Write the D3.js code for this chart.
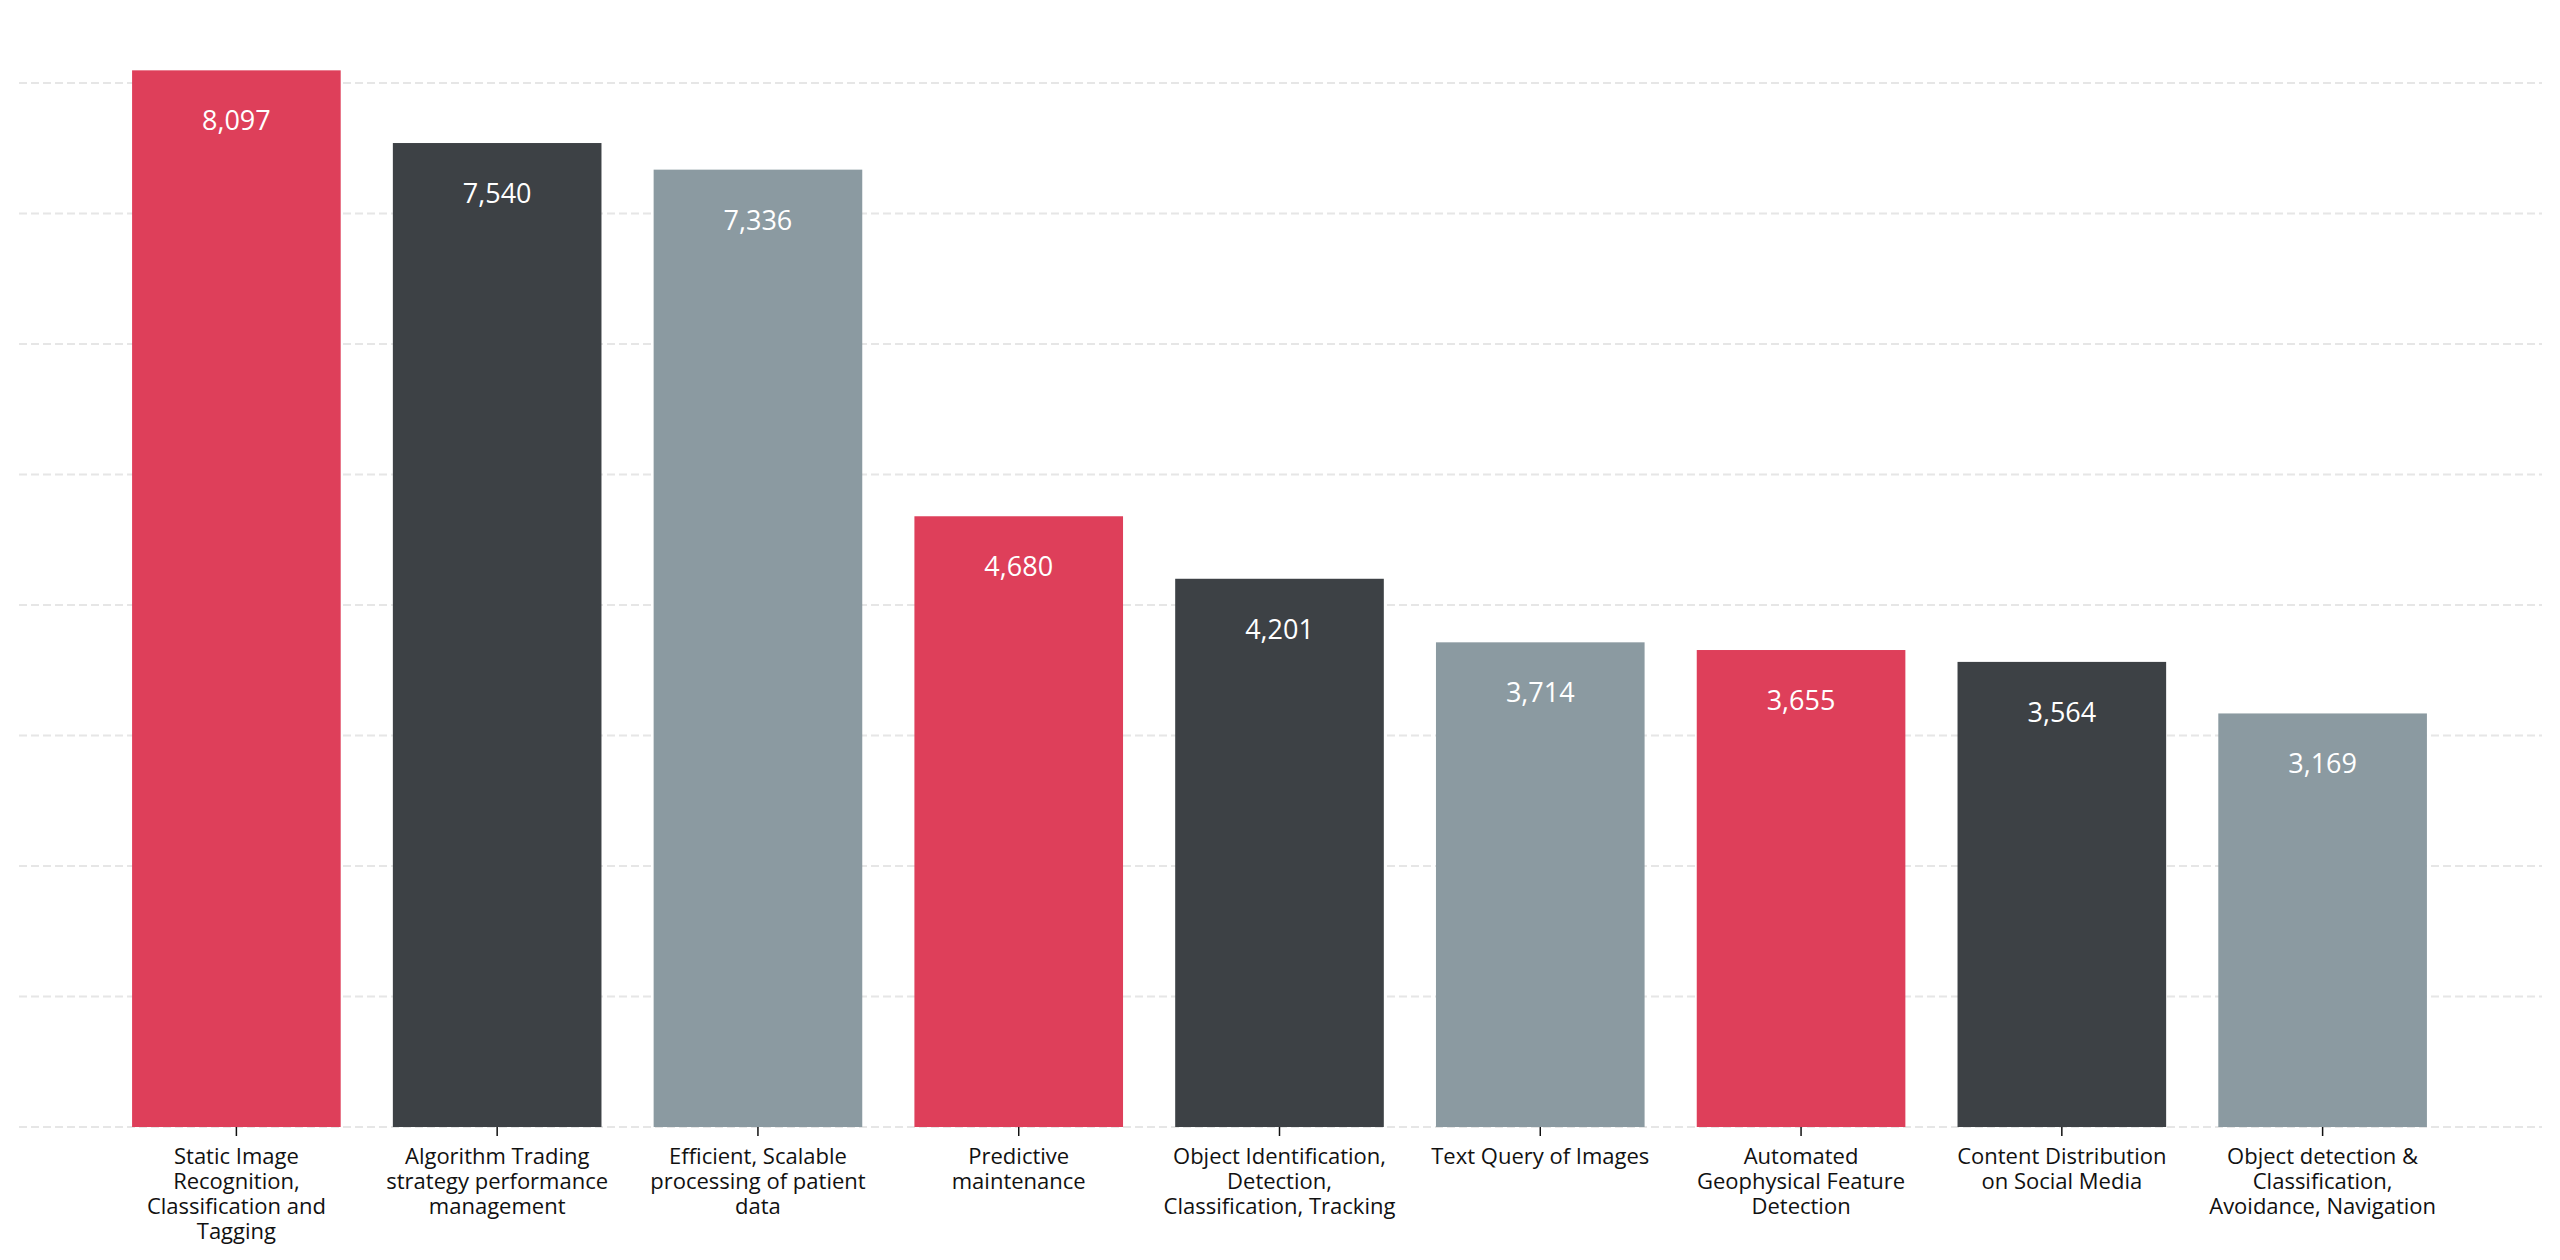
<!DOCTYPE html>
<html>
<head>
<meta charset="utf-8">
<script src="https://cdn.jsdelivr.net/npm/d3@7"></script>
<style>
  body { margin: 0; background: #fff; }
  text { font-family: "Open Sans", Roboto, sans-serif; }
</style>
</head>
<body>
<div id="chart-area"></div>
<script>
const SVG_WIDTH = 2560
const SVG_HEIGHT = 1260

// data
const categories = [
  "Static Image\nRecognition,\nClassification and\nTagging",
  "Algorithm Trading\nstrategy performance\nmanagement",
  "Efficient, Scalable\nprocessing of patient\ndata",
  "Predictive\nmaintenance",
  "Object Identification,\nDetection,\nClassification, Tracking",
  "Text Query of Images",
  "Automated\nGeophysical Feature\nDetection",
  "Content Distribution\non Social Media",
  "Object detection &\nClassification,\nAvoidance, Navigation"
]
const values = [8097, 7540, 7336, 4680, 4201, 3714, 3655, 3564, 3169]
const yTicks = [0, 1000, 2000, 3000, 4000, 5000, 6000, 7000, 8000]
const barColors = ["#de3f5a", "#3d4145", "#8b9aa1"]

const svg = d3.select("#chart-area").append("svg")
  .attr("width", SVG_WIDTH)
  .attr("height", SVG_HEIGHT)

svg.append("rect")
  .attr("width", SVG_WIDTH)
  .attr("height", SVG_HEIGHT)
  .attr("fill", "#fff")

const x = d3.scaleBand()
  .domain(categories)
  .range([106, 2453])
  .paddingInner(0.2)
  .paddingOuter(0.1)

const y = d3.scaleLinear()
  .domain([0, 8000])
  .range([1127, 83])

// gridlines
svg.append("g")
  .attr("class", "grid")
  .selectAll("line")
  .data(yTicks)
  .enter().append("line")
  .attr("x1", 19)
  .attr("x2", 2542)
  .attr("y1", d => y(d))
  .attr("y2", d => y(d))
  .attr("stroke", "#e6e6e6")
  .attr("stroke-width", 2)
  .attr("stroke-dasharray", "8,4")

// bars
svg.append("g")
  .selectAll("rect")
  .data(values)
  .enter().append("rect")
  .attr("x", (d, i) => x(categories[i]))
  .attr("y", d => y(d))
  .attr("width", x.bandwidth())
  .attr("height", d => y(0) - y(d))
  .attr("fill", (d, i) => barColors[i % 3])

// value labels
svg.append("g")
  .selectAll("text")
  .data(values)
  .enter().append("text")
  .attr("x", (d, i) => x(categories[i]) + x.bandwidth() / 2)
  .attr("y", d => y(d) + 60)
  .attr("text-anchor", "middle")
  .attr("font-size", "27px")
  .attr("fill", "#fff")
  .text(d => d3.format(",")(d))

// x axis
const xAxisCall = d3.axisBottom(x)
  .tickSize(9)
  .tickFormat("")

const xAxis = svg.append("g")
  .attr("class", "x axis")
  .attr("transform", `translate(0, ${y(0)})`)
  .call(xAxisCall)

xAxis.select(".domain").remove()
xAxis.selectAll(".tick line")
  .attr("stroke", "#111")
  .attr("stroke-width", 1.5)

xAxis.selectAll(".tick").each(function (d) {
  const lines = d.split("\n")
  const t = d3.select(this).append("text")
    .attr("y", 37)
    .attr("text-anchor", "middle")
    .attr("font-size", "22px")
    .attr("fill", "#111")
  lines.forEach((line, i) => {
    t.append("tspan")
      .attr("x", 0)
      .attr("dy", i === 0 ? 0 : 25)
      .text(line)
  })
})
</script>
</body>
</html>
